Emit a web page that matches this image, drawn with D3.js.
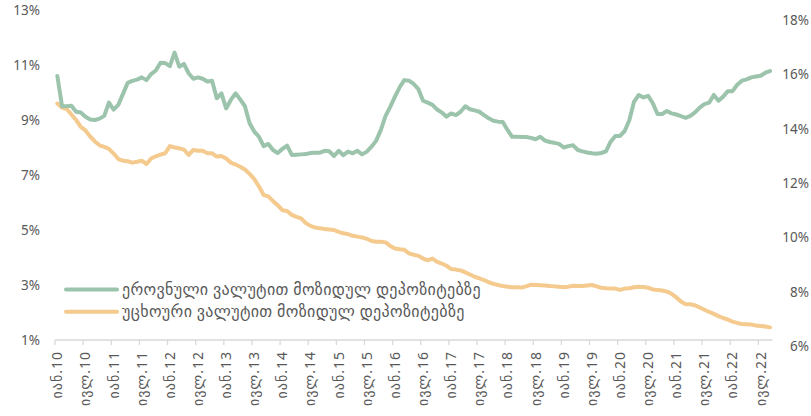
<!DOCTYPE html>
<html>
<head>
<meta charset="utf-8">
<script src="https://cdn.jsdelivr.net/npm/d3@7/dist/d3.min.js"></script>
<style>
  html, body { margin: 0; padding: 0; background: #ffffff; }
  svg { display: block; }
  .lbl { font-family: "Noto Sans", "DejaVu Sans", sans-serif; fill: #595959; }
</style>
</head>
<body>
<svg id="chart" width="811" height="416"></svg>
<script>
// Monthly deposit interest rates, Jan 2010 – Sep 2022 (%)
const monthNames = ["იან", "ივლ"];
const startYear = 2010;
const nMonths = 153;

const seriesNames = [
  "ეროვნული ვალუტით მოზიდულ დეპოზიტებზე",
  "უცხოური ვალუტით მოზიდულ დეპოზიტებზე"
];

const nationalCurrency = [
  10.6, 9.5, 9.5, 9.52, 9.3, 9.27, 9.12, 9.02, 9.0, 9.05, 9.15, 9.63,
  9.38, 9.55, 9.95, 10.35, 10.42, 10.47, 10.55, 10.45, 10.67, 10.8, 11.08, 11.07,
  10.96, 11.45, 10.94, 11.04, 10.7, 10.5, 10.55, 10.5, 10.4, 10.43, 9.79, 9.97,
  9.42, 9.73, 9.97, 9.75, 9.5, 8.88, 8.58, 8.39, 8.05, 8.13, 7.91, 7.8,
  7.95, 8.07, 7.73, 7.74, 7.75, 7.76, 7.8, 7.81, 7.81, 7.88, 7.86, 7.69,
  7.88, 7.72, 7.85, 7.79, 7.88, 7.75, 7.85, 8.03, 8.25, 8.64, 9.15, 9.48,
  9.85, 10.19, 10.45, 10.43, 10.31, 10.12, 9.7, 9.63, 9.55, 9.38, 9.27, 9.12,
  9.24, 9.18, 9.3, 9.5, 9.39, 9.35, 9.3, 9.18, 9.06, 8.97, 8.94, 8.93,
  8.64, 8.39, 8.39, 8.38, 8.38, 8.35, 8.3, 8.39, 8.25, 8.2, 8.17, 8.13,
  8.0, 8.05, 8.08, 7.91, 7.86, 7.82, 7.79, 7.77, 7.8, 7.86, 8.21, 8.42,
  8.42, 8.6, 9.0, 9.67, 9.91, 9.82, 9.88, 9.61, 9.22, 9.22, 9.33, 9.24,
  9.2, 9.14, 9.08, 9.15, 9.28, 9.45, 9.58, 9.63, 9.91, 9.7, 9.85, 10.05,
  10.05, 10.28, 10.43, 10.48, 10.55, 10.58, 10.61, 10.72, 10.78
];

const foreignCurrency = [
  9.6, 9.45, 9.4, 9.2, 9.0, 8.75, 8.62, 8.4, 8.22, 8.08, 8.02, 7.95,
  7.78, 7.58, 7.52, 7.5, 7.45, 7.48, 7.52, 7.4, 7.6, 7.68, 7.74, 7.79,
  8.05, 8.0, 7.97, 7.92, 7.73, 7.91, 7.88, 7.88, 7.79, 7.79, 7.67, 7.69,
  7.6, 7.45, 7.38, 7.3, 7.2, 7.04, 6.85, 6.58, 6.27, 6.22, 6.05, 5.9,
  5.72, 5.69, 5.55, 5.48, 5.42, 5.25, 5.15, 5.09, 5.06, 5.04, 5.02, 5.0,
  4.93, 4.88, 4.85, 4.79, 4.76, 4.73, 4.68, 4.6, 4.57, 4.57, 4.55, 4.42,
  4.33, 4.3, 4.28, 4.15, 4.1, 4.06, 3.96, 3.9, 3.96, 3.84, 3.78, 3.7,
  3.58, 3.56, 3.53, 3.46, 3.38, 3.3, 3.24, 3.18, 3.1, 3.04, 3.0, 2.96,
  2.94, 2.92, 2.92, 2.91, 2.95, 3.01, 3.0, 2.99, 2.98, 2.96, 2.95, 2.94,
  2.92, 2.94, 2.97, 2.96, 2.96, 2.98, 3.0, 2.95, 2.9, 2.88, 2.87, 2.87,
  2.82, 2.87, 2.88, 2.92, 2.94, 2.93, 2.9, 2.84, 2.82, 2.8, 2.76, 2.68,
  2.55, 2.4, 2.3, 2.3, 2.26, 2.18, 2.1, 2.02, 1.95, 1.87, 1.8, 1.74,
  1.67, 1.62, 1.58, 1.57, 1.56, 1.53, 1.51, 1.49, 1.46
];

const leftTicks = [1, 3, 5, 7, 9, 11, 13];
const rightTicks = [6, 8, 10, 12, 14, 16, 18];

const colors = ["#9cc4ac", "#f4ca8e"];

const svg = d3.select("#chart");
const months = d3.range(nMonths);

const x = d3.scaleBand().domain(months).range([55, 772.4]).padding(0);
const cx = i => x(i) + x.bandwidth() / 2;
const yL = d3.scaleLinear().domain([1, 13]).range([340, 10]);
const yR = d3.scaleLinear().domain([6, 18]).range([346.5, 20]);

// half-year category labels
const labelMonths = months.filter(i => i % 6 === 0);
const labelText = i => monthNames[(i % 12) / 6] + "." + String((startYear + Math.floor(i / 12)) % 100).padStart(2, "0");

// left axis labels
svg.append("g").selectAll("text").data(leftTicks).join("text")
  .attr("class", "lbl")
  .attr("x", 40).attr("y", d => yL(d)).attr("dy", "0.35em")
  .attr("text-anchor", "end").attr("font-size", 13.5)
  .text(d => d + "%");

// right axis labels
svg.append("g").selectAll("text").data(rightTicks).join("text")
  .attr("class", "lbl")
  .attr("x", 809).attr("y", d => yR(d)).attr("dy", "0.35em")
  .attr("text-anchor", "end").attr("font-size", 13.5)
  .text(d => d + "%");

// category axis line and tick marks
const xAxis = svg.append("g");
xAxis.append("line")
  .attr("x1", x(0)).attr("x2", x(nMonths - 1) + x.bandwidth())
  .attr("y1", yL(1)).attr("y2", yL(1))
  .attr("stroke", "#d9d9d9").attr("stroke-width", 1.3);
xAxis.selectAll("line.tick").data(labelMonths).join("line")
  .attr("class", "tick")
  .attr("x1", d => x(d)).attr("x2", d => x(d))
  .attr("y1", yL(1)).attr("y2", yL(1) + 5)
  .attr("stroke", "#d9d9d9").attr("stroke-width", 1.3);
xAxis.selectAll("text").data(labelMonths).join("text")
  .attr("class", "lbl")
  .attr("font-size", 14)
  .attr("letter-spacing", 1)
  .attr("text-anchor", "end")
  .attr("transform", d => `translate(${cx(d)},${yL(1) + 11}) rotate(-90)`)
  .attr("dy", "0.35em")
  .text(labelText);

// series lines
const line = d3.line().x((d, i) => cx(i)).y(d => yL(d));
[foreignCurrency, nationalCurrency].forEach((vals, k) => {
  svg.append("path")
    .datum(vals)
    .attr("fill", "none")
    .attr("stroke", colors[1 - k])
    .attr("stroke-width", 4)
    .attr("stroke-linejoin", "round")
    .attr("stroke-linecap", "round")
    .attr("d", line);
});

// legend
const legend = svg.append("g");
seriesNames.forEach((name, k) => {
  const ly = 289.5 + k * 22.2;
  legend.append("line")
    .attr("x1", 66).attr("x2", 117).attr("y1", ly).attr("y2", ly)
    .attr("stroke", colors[k]).attr("stroke-width", 4).attr("stroke-linecap", "round");
  legend.append("text")
    .attr("class", "lbl")
    .attr("x", 122).attr("y", ly).attr("dy", "0.35em")
    .attr("font-size", 16)
    .attr("letter-spacing", 0.35)
    .text(name);
});
</script>
</body>
</html>
